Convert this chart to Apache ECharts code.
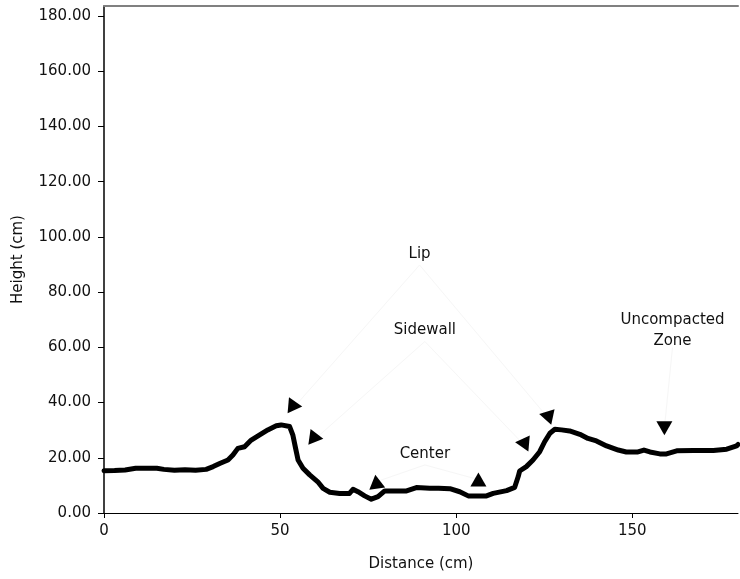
<!DOCTYPE html>
<html>
<head>
<meta charset="utf-8">
<script src="https://cdn.jsdelivr.net/npm/echarts@6/dist/echarts.min.js"></script>
<style>
html,body{margin:0;padding:0;background:#fff;}
#chart{width:740px;height:579px;}
</style>
</head>
<body>
<div id="chart"></div>
<script>
// Profile data (Distance cm, Height cm)
const distance = [0, 3, 6, 9, 12, 15, 17, 20, 23, 26, 29, 31, 33, 35.2, 36.6, 38, 39.9, 41.8, 44.2, 46.5, 48.9, 50.3, 52.7, 53.6, 54.4, 55.1, 56.5, 58.4, 60.7, 62.2, 64.1, 66.9, 69.7, 70.7, 72.1, 74, 75.9, 77.8, 79.7, 83, 85.9, 88.7, 92.5, 95, 98.2, 101, 103.4, 106, 108.6, 110.5, 114.3, 116.6, 117.6, 118, 119.9, 121.8, 123.7, 125.1, 126.6, 128, 129.9, 132.2, 135.1, 137.4, 139.8, 142.7, 146, 148.3, 151.6, 153.3, 155, 157.8, 159.7, 162.6, 167.3, 173, 176.8, 179.6, 180];
const height = [15.3, 15.4, 15.6, 16.2, 16.2, 16.2, 15.8, 15.5, 15.7, 15.5, 15.8, 16.8, 18, 19.2, 21, 23.4, 24, 26.4, 28.3, 30.1, 31.6, 31.9, 31.3, 28.3, 23.4, 19.2, 16.2, 13.8, 11.3, 8.9, 7.5, 7.1, 7.1, 8.6, 7.7, 6.2, 5.0, 5.9, 8.0, 8.0, 8.0, 9.2, 9.0, 9.0, 8.8, 7.7, 6.2, 6.2, 6.2, 7.1, 8.1, 9.3, 13.2, 15.2, 16.8, 19.2, 22.2, 25.8, 28.9, 30.3, 30.1, 29.7, 28.5, 27.0, 26.1, 24.3, 22.8, 22.1, 22.1, 22.8, 22.1, 21.4, 21.4, 22.5, 22.6, 22.6, 23.1, 24.3, 24.8];

// Tick values
const yTicks = [0, 20, 40, 60, 80, 100, 120, 140, 160, 180];
const xTicks = [0, 50, 100, 150];

// Annotation labels (text, x, y in data units)
const noteText = ['Lip', 'Sidewall', 'Center', 'Uncompacted\nZone'];
const noteX = [89.6, 91.1, 91.1, 161.4];
const noteY = [93.8, 66.1, 21.4, 65.9];

// Arrowheads (x, y in data units, pointing angle)
const arrowX = [54.3, 60.3, 77.3, 106.3, 118.7, 125.5, 159.1];
const arrowY = [38.8, 27.2, 11.3, 12.1, 25.4, 35.3, 30.7];
const arrowAngle = [-95, -98, 8, 0, 85, 78, 180];

// Faint leader lines: [label index, arrow index]
const leaders = [[0, 0], [0, 5], [1, 1], [1, 4], [2, 2], [2, 3], [3, 6]];

const FONT = 'DejaVu Sans';
const chart = echarts.init(document.getElementById('chart'));

const leaderSeries = leaders.map(([li, ai]) => ({
  type: 'line',
  data: [[noteX[li], noteY[li] + (li === 3 ? -6 : -4)], [arrowX[ai], arrowY[ai]]],
  symbol: 'none',
  lineStyle: {color: '#f6f6f6', width: 1},
  silent: true,
  z: 1
}));

chart.setOption({
  animation: false,
  backgroundColor: '#ffffff',
  grid: {left: 104, right: 2, top: 6, bottom: 66, containLabel: false},
  xAxis: [{
    type: 'value',
    min: 0, max: 180, interval: 50,
    name: 'Distance (cm)',
    nameLocation: 'middle',
    nameGap: 44,
    nameTextStyle: {fontFamily: FONT, fontSize: 15, color: '#111'},
    axisLine: {show: true, lineStyle: {color: '#000', width: 1}},
    axisTick: {show: true, length: 5, inside: false, lineStyle: {color: '#000'}, customValues: xTicks},
    axisLabel: {fontFamily: FONT, fontSize: 15, color: '#111', margin: 11, customValues: xTicks},
    splitLine: {show: false}
  }, {
    type: 'value',
    position: 'top',
    min: 0, max: 180,
    axisLine: {show: true, onZero: false, lineStyle: {color: '#808080', width: 2}},
    axisTick: {show: false},
    axisLabel: {show: false},
    splitLine: {show: false}
  }],
  yAxis: {
    type: 'value',
    min: 0, max: 183.6, interval: 20,
    name: 'Height (cm)',
    nameLocation: 'middle',
    nameGap: 78,
    nameRotate: 90,
    nameTextStyle: {fontFamily: FONT, fontSize: 15, color: '#111'},
    axisLine: {show: true, lineStyle: {color: '#000', width: 1.5}},
    axisTick: {show: true, length: 6, lineStyle: {color: '#000'}, customValues: yTicks},
    axisLabel: {fontFamily: FONT, fontSize: 15, color: '#111', margin: 13,
      customValues: yTicks,
      formatter: v => v.toFixed(2)},
    splitLine: {show: false}
  },
  series: [
    ...leaderSeries,
    {
      type: 'line',
      data: distance.map((d, i) => [d, height[i]]),
      symbol: 'none',
      smooth: false,
      lineStyle: {color: '#000', width: 5, join: 'round', cap: 'round'},
      z: 5
    },
    {
      type: 'scatter',
      data: arrowX.map((x, i) => ({value: [x, arrowY[i]], symbolRotate: arrowAngle[i]})),
      symbol: 'triangle',
      symbolSize: [16, 14],
      itemStyle: {color: '#000', opacity: 1},
      z: 6
    },
    {
      type: 'scatter',
      data: noteX.map((x, i) => ({value: [x, noteY[i]], name: noteText[i]})),
      symbol: 'circle',
      symbolSize: 1,
      itemStyle: {color: 'rgba(0,0,0,0)', opacity: 1},
      label: {
        show: true, position: 'inside',
        formatter: p => p.name,
        fontFamily: FONT, fontSize: 15, color: '#111', opacity: 1,
        lineHeight: 21, align: 'center', verticalAlign: 'middle'
      },
      z: 7
    }
  ]
});
</script>
</body>
</html>
